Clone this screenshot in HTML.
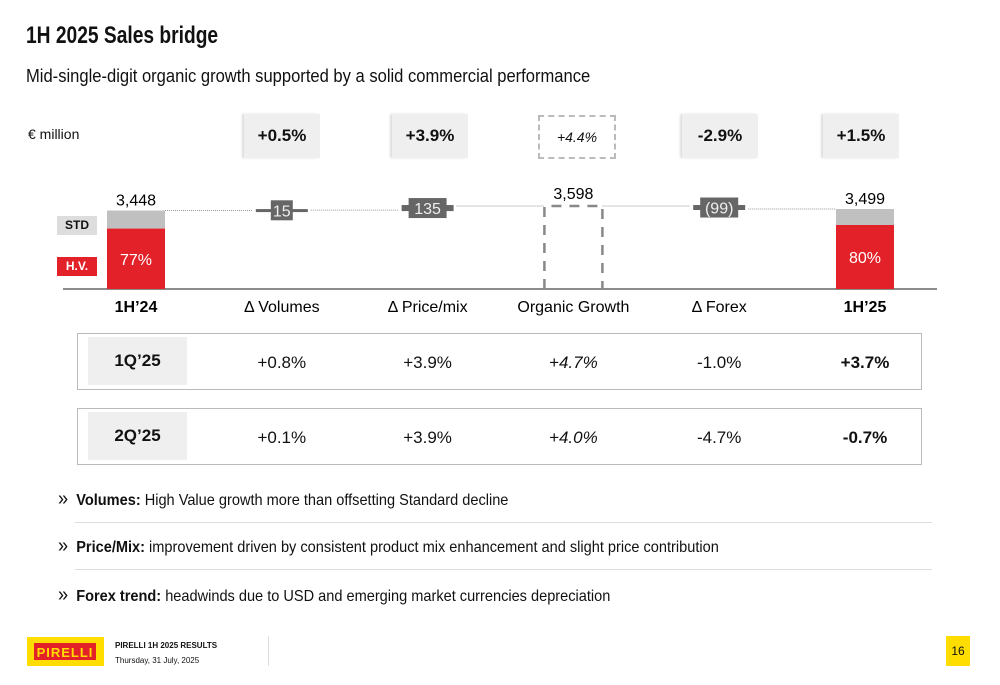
<!DOCTYPE html>
<html><head><meta charset="utf-8"><style>
body{margin:0;width:1000px;height:685px;background:#fff;font-family:"Liberation Sans",sans-serif;position:relative;overflow:hidden;color:#111}
.a{position:absolute}
.pill{position:absolute;background:#efefef;font-weight:bold;font-size:17px;text-align:center;line-height:44px;width:76px;height:44px;box-shadow:-2px 0 2px #ddd}
.tbl{position:absolute;left:77px;width:845px;height:57px;border:1px solid #bbb;box-sizing:border-box}
.cell{position:absolute;font-size:17px;text-align:center;width:140px;transform:translateX(-50%)}
.bul{position:absolute;left:58px;font-size:16px;white-space:nowrap;transform:scaleX(0.91);transform-origin:left}
.sep{position:absolute;left:75px;width:857px;height:1px;background:#ddd}
</style></head><body>
<div class="a" style="left:26px;top:22px;font-size:24px;font-weight:bold;white-space:nowrap;transform:scaleX(0.8);transform-origin:left">1H 2025 Sales bridge</div>
<div class="a" style="left:26px;top:66px;font-size:18px;white-space:nowrap;transform:scaleX(0.92);transform-origin:left">Mid-single-digit organic growth supported by a solid commercial performance</div>
<div class="a" style="left:28px;top:126px;font-size:14px">€ million</div>
<div class="pill" style="left:244px;top:114px">+0.5%</div>
<div class="pill" style="left:392px;top:114px">+3.9%</div>
<div class="a" style="left:538px;top:115px;width:74px;height:40px;border:2px dashed #bbb;text-align:center;line-height:40px;font-size:14px;font-style:italic">+4.4%</div>
<div class="pill" style="left:682px;top:114px">-2.9%</div>
<div class="pill" style="left:823px;top:114px">+1.5%</div>
<div class="a" style="left:57px;top:216px;width:40px;height:19px;background:#ddd;font-size:12px;font-weight:bold;text-align:center;line-height:19px">STD</div>
<div class="a" style="left:57px;top:257px;width:40px;height:19px;background:#e22228;color:#fff;font-size:12px;font-weight:bold;text-align:center;line-height:19px">H.V.</div>
<svg class="a" style="left:0;top:0" width="1000" height="685" id="ch"></svg>
<div class="tbl" style="top:333px"></div>
<div class="tbl" style="top:408px"></div>
<div class="a" style="left:88px;top:337px;width:99px;height:48px;background:#efefef;font-weight:bold;font-size:17px;text-align:center;line-height:48px">1Q’25</div>
<div class="a" style="left:88px;top:412px;width:99px;height:48px;background:#efefef;font-weight:bold;font-size:17px;text-align:center;line-height:48px">2Q’25</div>
<div id="rows"></div>
<div class="bul" style="top:491px"><span style="font-size:20px;line-height:16px">»</span>&nbsp;&nbsp;<b>Volumes:</b> High Value growth more than offsetting Standard decline</div>
<div class="sep" style="top:522px"></div>
<div class="bul" style="top:538px"><span style="font-size:20px;line-height:16px">»</span>&nbsp;&nbsp;<b>Price/Mix:</b> improvement driven by consistent product mix enhancement and slight price contribution</div>
<div class="sep" style="top:569px"></div>
<div class="bul" style="top:587px"><span style="font-size:20px;line-height:16px">»</span>&nbsp;&nbsp;<b>Forex trend:</b> headwinds due to USD and emerging market currencies depreciation</div>
<div class="a" style="left:27px;top:637px;width:77px;height:29px;background:#ffdd00"><div style="position:absolute;left:7px;top:6px;width:62px;height:17px;background:#e22228;color:#ffdd00;font-weight:bold;font-size:13px;line-height:19px;text-align:center;letter-spacing:1px">PIRELLI</div></div>
<div class="a" style="left:115px;top:641px;font-size:8px;font-weight:bold">PIRELLI 1H 2025 RESULTS</div>
<div class="a" style="left:115px;top:656px;font-size:8px">Thursday, 31 July, 2025</div>
<div class="a" style="left:268px;top:636px;width:1px;height:30px;background:#ddd"></div>
<div class="a" style="left:946px;top:636px;width:24px;height:30px;background:#ffdd00;font-size:12px;text-align:center;line-height:30px">16</div>
<script>
const categories=["1H’24","Δ Volumes","Δ Price/mix","Organic Growth","Δ Forex","1H’25"];
const values=[3448,15,135,3598,-99,3499];
const kinds=["total","delta","delta","subtotal","delta","total"];
const hvShare=[77,null,null,null,null,80];
const q1=["+0.8%","+3.9%","+4.7%","-1.0%","+3.7%"];
const q2=["+0.1%","+3.9%","+4.0%","-4.7%","-0.7%"];
const ns="http://www.w3.org/2000/svg",svg=document.getElementById('ch');
const base=289,X=i=>136+i*145.8,Y=v=>209-(v-3499)*0.03;
function el(t,a,p){const e=document.createElementNS(ns,t);for(const k in a)e.setAttribute(k,a[k]);(p||svg).appendChild(e);return e}
el('line',{x1:63,x2:937,y1:base,y2:base,stroke:'#666','stroke-width':1.5});
let run=0,prevX=null,prevY=null;
categories.forEach((c,i)=>{
 const x=X(i),w=58;
 let lvl;
 if(kinds[i]=="delta"){run+=values[i];lvl=Y(run);}else{run=values[i];lvl=Y(run);}
 if(prevX!==null){const l=el('line',{x1:prevX,x2:x-w/2,y1:prevY,y2:prevY,stroke:'#999','stroke-dasharray':'1 1'});}
 if(kinds[i]=="total"){
  const top=Y(values[i]),hvTop=base-(base-top)*hvShare[i]/100;
  const s=el('rect',{x:x-w/2,y:top,width:w,height:hvTop-top,fill:'#c0c0c0'});
  const h=el('rect',{x:x-w/2,y:hvTop,width:w,height:base-hvTop,fill:'#e22228'});
  const t=el('text',{x:x,y:(hvTop+base)/2+6,'text-anchor':'middle',fill:'#fff','font-size':16});t.textContent=hvShare[i]+'%';
  const v=el('text',{x:x,y:top-5,'text-anchor':'middle','font-size':16});v.textContent=values[i].toLocaleString('en-US');
 }else if(kinds[i]=="subtotal"){
  const top=Y(values[i]);
  const r=el('path',{d:`M${x-w/2},${base} V${top} H${x+w/2} V${base}`,fill:'none',stroke:'#888','stroke-width':2.5,'stroke-dasharray':'10 8'});
  const v=el('text',{x:x,y:top-7,'text-anchor':'middle','font-size':16});v.textContent=values[i].toLocaleString('en-US');
 }else{
  const y0=Y(run-values[i]),y1=lvl,mid=(y0+y1)/2;
  const b=el('rect',{x:x-26,y:Math.min(y0,y1)-1,width:52,height:Math.max(3,Math.abs(y1-y0)+2),fill:'#666'});
  const lw=values[i]<0?19:(values[i]>=100?19:11);
  const r=el('rect',{x:x-lw,y:mid-10,width:lw*2,height:20,fill:'#666'});
  const t=el('text',{x:x,y:mid+6,'text-anchor':'middle',fill:'#eee','font-size':16});t.textContent=values[i]<0?`(${-values[i]})`:values[i];
 }
 const lab=el('text',{x:x,y:312,'text-anchor':'middle','font-size':16,'font-weight':kinds[i]=="total"?'bold':'normal'});lab.textContent=c;
 prevX=x+w/2;prevY=lvl;
});
const rows=document.getElementById('rows');
[[q1,362],[q2,437]].forEach(([arr,top])=>arr.forEach((v,j)=>{
 const d=document.createElement('div');d.className='cell';
 
 
 d.style.left=X(j+1)+'px';d.style.top=(top-9)+'px';
 if(j==2)d.style.fontStyle='italic';if(j==4)d.style.fontWeight='bold';
 d.textContent=v;rows.appendChild(d);}));
</script>
</body></html>
